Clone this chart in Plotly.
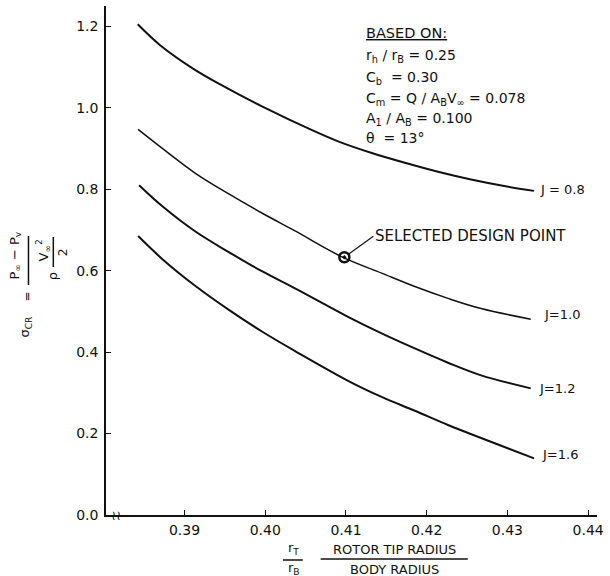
import plotly.graph_objects as go

# ---- data ----
x_j08 = [0.3842, 0.3869, 0.3910, 0.3951, 0.39985, 0.4058, 0.4091, 0.4132, 0.4173, 0.4214, 0.4255, 0.4296, 0.4333]
y_j08 = [1.205, 1.155, 1.097, 1.050, 1.001, 0.945, 0.917, 0.889, 0.865, 0.843, 0.824, 0.808, 0.796]

x_j10 = [0.38425, 0.38733, 0.39144, 0.39554, 0.39964, 0.40375, 0.4095, 0.41442, 0.41853, 0.42264, 0.42674, 0.43289]
y_j10 = [0.947, 0.899, 0.838, 0.788, 0.741, 0.697, 0.634, 0.594, 0.561, 0.532, 0.507, 0.481]

x_j12 = [0.38437, 0.38733, 0.39144, 0.39554, 0.39964, 0.40375, 0.41032, 0.41442, 0.41853, 0.42264, 0.42674, 0.43289]
y_j12 = [0.810, 0.757, 0.695, 0.645, 0.598, 0.556, 0.486, 0.446, 0.409, 0.374, 0.343, 0.311]

x_j16 = [0.38425, 0.38733, 0.39144, 0.39554, 0.39964, 0.40375, 0.41032, 0.41442, 0.41853, 0.42264, 0.42674, 0.43331]
y_j16 = [0.685, 0.627, 0.561, 0.503, 0.450, 0.402, 0.329, 0.290, 0.256, 0.221, 0.189, 0.139]

curve_labels = ["J = 0.8", "J=1.0", "J=1.2", "J=1.6"]
design_x = [0.4098]
design_y = [0.633]

x_ticks = [0.39, 0.40, 0.41, 0.42, 0.43, 0.44]
x_ticktext = ["0.39", "0.40", "0.41", "0.42", "0.43", "0.44"]
y_ticks = [0.0, 0.2, 0.4, 0.6, 0.8, 1.0, 1.2]
y_ticktext = ["0.0", "0.2", "0.4", "0.6", "0.8", "1.0", "1.2"]

based_on = [
    "r<sub>h</sub> / r<sub>B</sub> = 0.25",
    "C<sub>b</sub>  = 0.30",
    "C<sub>m</sub> = Q / A<sub>B</sub>V<sub>∞</sub> = 0.078",
    "A<sub>1</sub> / A<sub>B</sub> = 0.100",
    "θ  = 13°",
]

# ---- layout geometry ----
W, H = 610, 576
ML, MR, MT, MB = 106, 10, 6, 61
PW, PH = W - ML - MR, H - MT - MB
FONT = "DejaVu Sans"
INK = "#111111"


def px(x):
    return (x - ML) / PW


def py(y):
    return (H - MB - y) / PH


fig = go.Figure()

series = [(x_j08, y_j08, 2.0), (x_j10, y_j10, 1.5), (x_j12, y_j12, 2.0), (x_j16, y_j16, 2.0)]
for (xs, ys, lw), name in zip(series, curve_labels):
    fig.add_trace(go.Scatter(x=xs, y=ys, mode="lines", name=name,
                             line=dict(color=INK, width=lw, shape="spline", smoothing=1.0),
                             showlegend=False, hoverinfo="skip"))

fig.add_trace(go.Scatter(x=design_x, y=design_y, mode="markers",
                         marker=dict(symbol="circle-open-dot", size=10, color=INK,
                                     line=dict(width=2.5, color=INK)),
                         showlegend=False, hoverinfo="skip"))

annotations = []
# curve labels at the curve ends
shifts = [(4, 1), (11, 5), (6, 0), (6, 4)]
for (xs, ys, _), lab, (dx, dy) in zip(series, curve_labels, shifts):
    annotations.append(dict(x=xs[-1], y=ys[-1], xref="x", yref="y", text=lab,
                            showarrow=False, xanchor="left", yanchor="middle",
                            xshift=dx, yshift=dy, font=dict(size=13, color=INK)))

# design point leader
annotations.append(dict(x=design_x[0], y=design_y[0], xref="x", yref="y",
                        text="SELECTED DESIGN POINT", showarrow=True, arrowhead=0,
                        arrowwidth=1.2, arrowcolor=INK, ax=29, ay=-21, standoff=5,
                        xanchor="left", yanchor="middle", font=dict(size=15, color=INK)))

# "BASED ON" block
annotations.append(dict(x=px(366), y=py(33), xref="paper", yref="paper",
                        text="<u>BASED ON:</u>", showarrow=False, xanchor="left",
                        yanchor="middle", font=dict(size=14.5, color=INK)))
for txt, yy in zip(based_on, [56, 78, 99, 119, 138]):
    annotations.append(dict(x=px(366), y=py(yy), xref="paper", yref="paper",
                            text=txt, showarrow=False, xanchor="left",
                            yanchor="middle", font=dict(size=14, color=INK)))

# axis break mark
annotations.append(dict(x=0.3815, y=0, xref="x", yref="y", text="≀≀", showarrow=False,
                        xanchor="center", yanchor="middle",
                        font=dict(size=13, color=INK, family="DejaVu Sans")))

# y-axis title (rotated fraction)
ytitle = [
    ("σ<sub>CR</sub>", 25, 326, 13),
    ("=", 27, 296, 12),
    ("P<sub>∞</sub> − P<sub>v</sub>", 14, 256, 13),
    ("V<sub>∞</sub><sup>2</sup>", 43, 250, 13),
    ("2", 63, 252, 12),
    ("ρ", 52, 276, 13),
]
for txt, xx, yy, fs in ytitle:
    annotations.append(dict(x=px(xx), y=py(yy), xref="paper", yref="paper", text=txt,
                            textangle=-90, showarrow=False, xanchor="center",
                            yanchor="middle", font=dict(size=fs, color=INK)))

# x-axis title
xtitle = [
    ("r<sub>T</sub>", 295, 548, 13),
    ("r<sub>B</sub>", 295, 568, 13),
    ("ROTOR TIP RADIUS", 396, 549, 13),
    ("BODY RADIUS", 396, 569, 13),
]
for txt, xx, yy, fs in xtitle:
    annotations.append(dict(x=px(xx), y=py(yy), xref="paper", yref="paper", text=txt,
                            showarrow=False, xanchor="center", yanchor="middle",
                            font=dict(size=fs, color=INK)))

shapes = [
    dict(type="line", xref="paper", yref="paper", x0=px(28), x1=px(28), y0=py(236), y1=py(285),
         line=dict(color=INK, width=1.5)),
    dict(type="line", xref="paper", yref="paper", x0=px(53), x1=px(53), y0=py(237), y1=py(267),
         line=dict(color=INK, width=1.5)),
    dict(type="line", xref="paper", yref="paper", x0=px(284), x1=px(304), y0=py(560), y1=py(560),
         line=dict(color=INK, width=1.5)),
    dict(type="line", xref="paper", yref="paper", x0=px(322), x1=px(470), y0=py(559), y1=py(559),
         line=dict(color=INK, width=1.5)),
]

fig.update_layout(
    width=W, height=H,
    margin=dict(l=ML, r=MR, t=MT, b=MB, pad=0),
    paper_bgcolor="white", plot_bgcolor="white",
    font=dict(family=FONT, color=INK, size=14),
    annotations=annotations, shapes=shapes,
    xaxis=dict(range=[0.38027, 0.4411], tickvals=x_ticks, ticktext=x_ticktext,
               showline=True, linecolor=INK, linewidth=1.5, ticks="inside", ticklen=5,
               tickwidth=1.3, tickcolor=INK, showgrid=False, zeroline=False,
               tickfont=dict(size=14), ticklabelstandoff=1),
    yaxis=dict(range=[0, 1.25], tickvals=y_ticks, ticktext=y_ticktext,
               showline=True, linecolor=INK, linewidth=1.5, ticks="inside", ticklen=5,
               tickwidth=1.3, tickcolor=INK, showgrid=False, zeroline=False,
               tickfont=dict(size=14), ticklabelstandoff=3),
)

fig.write_html(
    "out.html",
    config={"displayModeBar": False},
    post_script="document.body.style.margin='0';document.documentElement.style.overflow='hidden';",
)
